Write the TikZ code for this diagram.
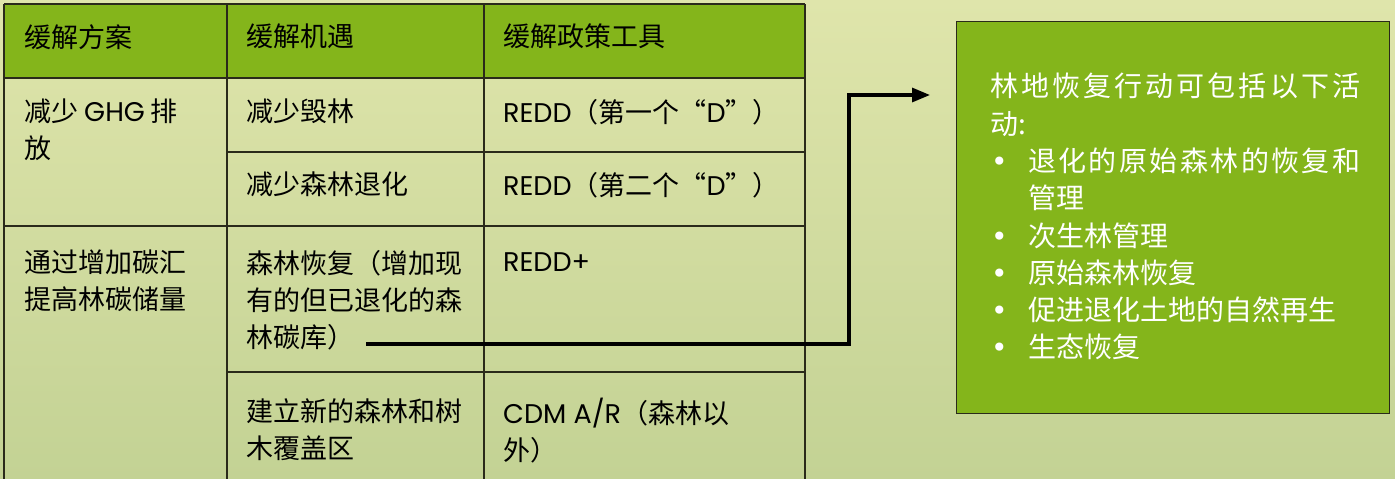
\documentclass[tikz,border=0pt]{standalone}
\usepackage{fontspec}
\setmainfont{Noto Sans CJK SC}
\newfontfamily\lat{Poppins}
\newfontfamily\dotfont{DejaVu Sans}
\usetikzlibrary{arrows.meta}
\definecolor{hdrgreen}{HTML}{84B51B}
\definecolor{bgtop}{HTML}{DFE5AB}
\definecolor{bgbot}{HTML}{C3D294}
\definecolor{gridline}{HTML}{2A2A1A}
\newcommand{\bul}{\makebox[38pt][l]{\hspace{1pt}{\dotfont •}}}
\tikzset{
  cell/.style={anchor=north west, inner sep=0pt, align=left, font=\fontsize{27}{37}\selectfont, text=black},
  gridrule/.style={draw=gridline, line width=1.4pt},
  conn/.style={line width=3.2pt, -{Triangle[length=18pt,width=14pt]}},
  panel/.style={fill=hdrgreen, draw=gridline, line width=1.4pt},
  paneltext/.style={anchor=north west, inner sep=0pt, align=left, font=\fontsize{28}{37.3}\selectfont, text=white},
}
\begin{document}
\begin{tikzpicture}[x=1pt,y=-1pt]
\useasboundingbox (0,0) rectangle (1395,479);
\shade[top color=bgtop, bottom color=bgbot] (0,0) rectangle (1395,479);
% table header
\fill[hdrgreen] (4,4) rectangle (805,78);
% table rules
\draw[gridrule] (4,4) -- (805,4);
\draw[gridrule] (4,78) -- (805,78);
\draw[gridrule] (227,152) -- (805,152);
\draw[gridrule] (4,226) -- (805,226);
\draw[gridrule] (227,372) -- (805,372);
\draw[gridrule] (4,4) -- (4,479);
\draw[gridrule] (227,4) -- (227,479);
\draw[gridrule] (484,4) -- (484,479);
\draw[gridrule] (805,4) -- (805,479);
% header texts
\node[cell] (h1) at (24,24) {缓解方案};
\node[cell] (h2) at (246,24) {缓解机遇};
\node[cell] (h3) at (503,24) {缓解政策工具};
% rows
\node[cell] (r1a) at (24,99) {减少 {\lat GHG} 排\\放};
\node[cell] (r1b) at (246,99) {减少毁林};
\node[cell] (r1c) at (503,99) {{\lat REDD}（第一个“{\lat D}”）};
\node[cell] (r2b) at (246,172) {减少森林退化};
\node[cell] (r2c) at (503,172) {{\lat REDD}（第二个“{\lat D}”）};
\node[cell] (r3a) at (24,250) {通过增加碳汇\\提高林碳储量};
\node[cell] (r3b) at (246,250) {森林恢复（增加现\\有的但已退化的森\\林碳库）};
\node[cell] (r3c) at (503,250) {\vphantom{国}{\lat REDD+}};
\node[cell] (r4b) at (246,398) {建立新的森林和树\\木覆盖区};
\node[cell] (r4c) at (503,398) {{\lat CDM A/R}（森林以\\外）};
% right panel
\node[panel, anchor=north west, minimum width=433pt, minimum height=392pt, inner sep=0pt] (box) at (956,21) {};
\node[paneltext] (boxtext) at (990,73) {%
\makebox[370pt][s]{林\hfill 地\hfill 恢\hfill 复\hfill 行\hfill 动\hfill 可\hfill 包\hfill 括\hfill 以\hfill 下\hfill 活}\\
动:\\
\bul\makebox[332pt][s]{退\hfill 化\hfill 的\hfill 原\hfill 始\hfill 森\hfill 林\hfill 的\hfill 恢\hfill 复\hfill 和}\\
\hspace*{38pt}管理\\
\bul 次生林管理\\
\bul 原始森林恢复\\
\bul 促进退化土地的自然再生\\
\bul 生态恢复};
% connector
\coordinate (a0) at (366,344);
\coordinate (bend) at (849,344);
\coordinate (a1) at (930,95);
\draw[conn] (a0) -- (bend) |- (a1);
\end{tikzpicture}
\end{document}
